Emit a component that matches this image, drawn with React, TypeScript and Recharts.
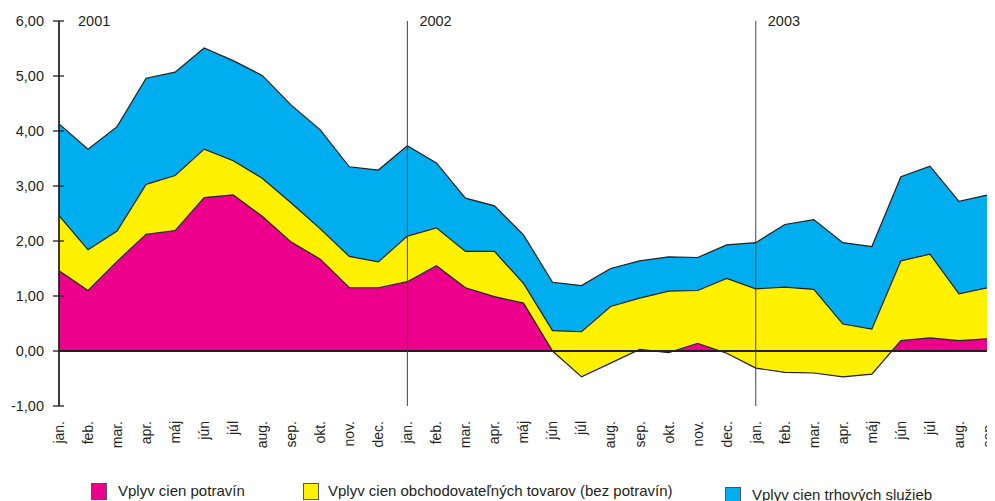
import { Area, AreaChart, ReferenceLine, XAxis, YAxis } from "recharts";

const monthLabels = [
  "jan.", "feb.", "mar.", "apr.", "máj", "jún", "júl", "aug.", "sep.", "okt.", "nov.", "dec.",
  "jan.", "feb.", "mar.", "apr.", "máj", "jún", "júl", "aug.", "sep.", "okt.", "nov.", "dec.",
  "jan.", "feb.", "mar.", "apr.", "máj", "jún", "júl", "aug.", "sep."
];

// Vplyv cien potravín
const food = [
  1.46, 1.1, 1.63, 2.12, 2.19, 2.79, 2.84, 2.45, 1.98, 1.67, 1.15, 1.15,
  1.26, 1.55, 1.15, 0.99, 0.87, 0.0, -0.47, -0.22, 0.03, -0.03, 0.14, -0.04,
  -0.31, -0.39, -0.4, -0.47, -0.42, 0.19, 0.24, 0.19, 0.22
];

// Vplyv cien obchodovateľných tovarov (bez potravín)
const goods = [
  1.0, 0.74, 0.55, 0.91, 1.0, 0.88, 0.62, 0.69, 0.71, 0.55, 0.57, 0.47,
  0.83, 0.69, 0.66, 0.82, 0.36, 0.37, 0.82, 1.03, 0.93, 1.12, 0.96, 1.36,
  1.44, 1.55, 1.52, 0.96, 0.82, 1.45, 1.52, 0.85, 0.93
];

// Vplyv cien trhových služieb
const services = [
  1.67, 1.83, 1.9, 1.93, 1.88, 1.84, 1.82, 1.87, 1.78, 1.8, 1.63, 1.67,
  1.64, 1.18, 0.97, 0.83, 0.88, 0.88, 0.84, 0.69, 0.68, 0.62, 0.6, 0.61,
  0.84, 1.14, 1.27, 1.48, 1.5, 1.53, 1.6, 1.68, 1.69
];

const yTicks = [-1, 0, 1, 2, 3, 4, 5, 6];

const yearStarts = [
  { year: "2001", index: 0 },
  { year: "2002", index: 12 },
  { year: "2003", index: 24 }
];

const seriesInfo = [
  { key: "food", name: "Vplyv cien potravín", color: "#ec008c" },
  { key: "goods", name: "Vplyv cien obchodovateľných tovarov (bez potravín)", color: "#fff100" },
  { key: "services", name: "Vplyv cien trhových služieb", color: "#00aeef" }
];

const chartData = monthLabels.map((label, i) => ({
  id: i,
  label,
  food: food[i],
  goods: goods[i],
  services: services[i]
}));

const FONT = "'Liberation Sans', Arial, Helvetica, sans-serif";
const INK = "#231f20";

function YTick({ x, y, payload }: any) {
  const text = Number(payload.value).toFixed(2).replace(".", ",");
  return (
    <g>
      <line x1={x - 6} x2={x + 5} y1={y} y2={y} stroke={INK} strokeWidth={1.3} />
      <text x={x - 15} y={y} dy="0.36em" textAnchor="end" fontSize={14.5} fill={INK} fontFamily={FONT}>
        {text}
      </text>
    </g>
  );
}

function XTick({ x, y, payload }: any) {
  return (
    <text
      x={x}
      y={y}
      dy="0.35em"
      transform={`rotate(-90, ${x}, ${y})`}
      textAnchor="end"
      fontSize={14}
      fill={INK}
      fontFamily={FONT}
    >
      {monthLabels[payload.value]}
    </text>
  );
}

function YearLabel({ viewBox, value, dx }: any) {
  if (!viewBox) return null;
  return (
    <text
      x={viewBox.x + dx}
      y={viewBox.y}
      dy="0.36em"
      fontSize={14.5}
      fill={INK}
      fontFamily={FONT}
    >
      {value}
    </text>
  );
}

function LegendBox() {
  const spots = [
    { box: 83, text: 110, top: 475 },
    { box: 295, text: 320, top: 475 },
    { box: 717, text: 744, top: 479 }
  ];
  return (
    <>
      {seriesInfo.map((s, i) => (
        <div key={s.key}>
          <div
            style={{
              position: "absolute",
              left: spots[i].box,
              top: spots[i].top,
              width: 14,
              height: 15,
              background: s.color,
              border: "1px solid #555"
            }}
          />
          <div
            style={{
              position: "absolute",
              left: spots[i].text,
              top: spots[i].top - 1,
              fontFamily: FONT,
              fontSize: 15,
              lineHeight: "18px",
              color: INK,
              whiteSpace: "nowrap"
            }}
          >
            {s.name}
          </div>
        </div>
      ))}
    </>
  );
}

export default function App() {
  return (
    <div style={{ position: "relative", width: 987, height: 493, overflow: "hidden" }}>
      <style>{"html, body { overflow: hidden; }"}</style>
      <AreaChart width={987} height={493} data={chartData} margin={{ top: 13, right: 7, bottom: 0, left: 0 }}>
        <XAxis
          dataKey="id"
          type="number"
          domain={[0, monthLabels.length - 1]}
          ticks={chartData.map((d) => d.id)}
          interval={0}
          axisLine={false}
          tickLine={false}
          tickSize={0}
          tickMargin={15}
          height={95}
          tick={<XTick />}
        />
        <YAxis
          domain={[-1, 6]}
          ticks={yTicks}
          width={51}
          axisLine={{ stroke: INK, strokeWidth: 1.3 }}
          tickLine={false}
          tickSize={0}
          tickMargin={0}
          tick={<YTick />}
        />
        {seriesInfo.map((s) => (
          <Area
            key={s.key}
            type="linear"
            dataKey={s.key}
            name={s.name}
            stackId="fill"
            fill={s.color}
            fillOpacity={1}
            stroke="none"
            dot={false}
            activeDot={false}
            isAnimationActive={false}
          />
        ))}
        {seriesInfo.map((s) => (
          <Area
            key={`${s.key}-edge`}
            type="linear"
            dataKey={s.key}
            stackId="edge"
            fill="none"
            stroke={INK}
            strokeWidth={1.2}
            dot={false}
            activeDot={false}
            legendType="none"
            isAnimationActive={false}
          />
        ))}
        <ReferenceLine y={0} stroke={INK} strokeWidth={1.8} />
        {yearStarts.map((y, i) => (
          <ReferenceLine
            key={y.year}
            x={y.index}
            stroke={i === 0 ? INK : "#444"}
            strokeWidth={i === 0 ? 1.3 : 1}
            label={<YearLabel value={y.year} dx={i === 0 ? 19 : 12} />}
          />
        ))}
      </AreaChart>
      <LegendBox />
    </div>
  );
}
